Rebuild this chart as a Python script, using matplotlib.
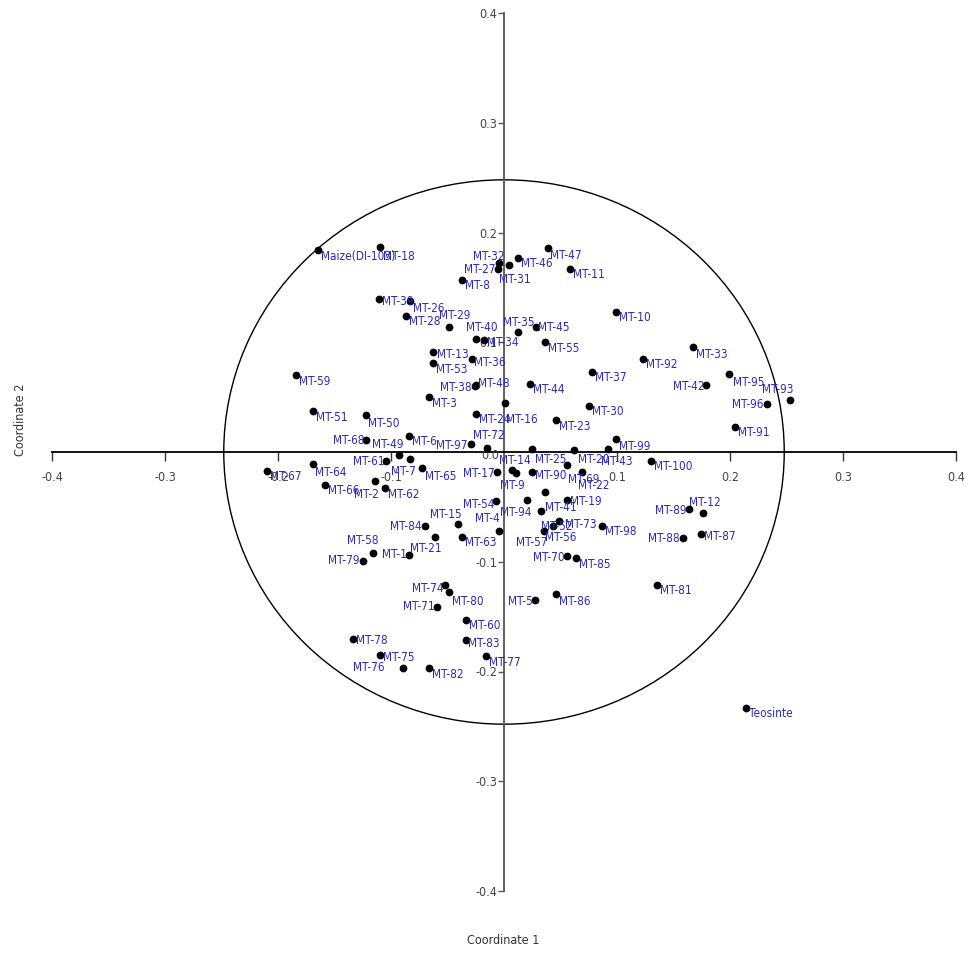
import matplotlib
matplotlib.use('Agg')
import matplotlib.pyplot as plt
from matplotlib import font_manager
from matplotlib.patches import Ellipse

# PCoA coordinates
names = ['Maize(DI-103)', 'MT-18', 'MT-39', 'MT-26', 'MT-28', 'MT-59', 'MT-13', 'MT-53',
         'MT-32', 'MT-27', 'MT-8', 'MT-31', 'MT-46', 'MT-47', 'MT-11', 'MT-29',
         'MT-40', 'MT-34', 'MT-35', 'MT-45', 'MT-55', 'MT-36', 'MT-38', 'MT-48',
         'MT-44', 'MT-37', 'MT-3', 'MT-16', 'MT-24', 'MT-10', 'MT-33', 'MT-92',
         'MT-42', 'MT-95', 'MT-93', 'MT-96', 'MT-91', 'MT-99', 'MT-30', 'MT-23',
         'MT-51', 'MT-50', 'MT-68', 'MT-49', 'MT-6', 'MT-61', 'MT-7', 'MT-65',
         'MT-67', 'MT-64', 'MT-66', 'MT-2', 'MT-62', 'MT-84', 'MT-15', 'MT-63',
         'MT-21', 'MT-1', 'MT-72', 'MT-97', 'MT-14', 'MT-9', 'MT-17', 'MT-25',
         'MT-90', 'MT-20', 'MT-43', 'MT-69', 'MT-22', 'MT-19', 'MT-41', 'MT-94',
         'MT-54', 'MT-4', 'MT-52', 'MT-73', 'MT-56', 'MT-57', 'MT-98', 'MT-70',
         'MT-85', 'MT-5', 'MT-86', 'MT-81', 'MT-100', 'MT-89', 'MT-12', 'MT-88',
         'MT-87', 'MT-58', 'MT-79', 'MT-74', 'MT-80', 'MT-71', 'MT-60', 'MT-83',
         'MT-77', 'MT-78', 'MT-76', 'MT-75', 'MT-82', 'Teosinte']

coord1 = [-0.165, -0.110, -0.111, -0.083, -0.087, -0.184, -0.063, -0.063,
          -0.004, -0.005, -0.037, 0.004, 0.012, 0.039, 0.058, -0.049,
          -0.025, -0.018, 0.012, 0.028, 0.036, -0.028, -0.026, -0.025,
          0.023, 0.078, -0.066, 0.001, -0.025, 0.099, 0.167, 0.123,
          0.179, 0.199, 0.253, 0.233, 0.204, 0.099, 0.075, 0.046,
          -0.169, -0.122, -0.122, -0.093, -0.084, -0.104, -0.083, -0.073,
          -0.210, -0.169, -0.158, -0.114, -0.105, -0.070, -0.041, -0.037,
          -0.061, -0.084, -0.015, -0.029, 0.007, 0.011, -0.006, 0.025,
          0.025, 0.062, 0.092, 0.056, 0.069, 0.056, 0.036, 0.020,
          -0.007, -0.004, 0.033, 0.049, 0.043, 0.035, 0.087, 0.056,
          0.064, 0.027, 0.046, 0.135, 0.130, 0.164, 0.176, 0.158,
          0.174, -0.116, -0.125, -0.052, -0.049, -0.059, -0.034, -0.034,
          -0.016, -0.134, -0.110, -0.089, -0.066, 0.214]

coord2 = [0.184, 0.187, 0.139, 0.138, 0.124, 0.070, 0.091, 0.081,
          0.172, 0.167, 0.157, 0.170, 0.177, 0.186, 0.167, 0.114,
          0.103, 0.102, 0.109, 0.114, 0.100, 0.085, 0.060, 0.061,
          0.062, 0.073, 0.050, 0.045, 0.035, 0.128, 0.096, 0.085,
          0.061, 0.071, 0.047, 0.044, 0.023, 0.012, 0.042, 0.029,
          0.037, 0.034, 0.011, -0.003, 0.015, -0.008, -0.006, -0.015,
          -0.017, -0.011, -0.030, -0.026, -0.033, -0.067, -0.066, -0.077,
          -0.077, -0.094, 0.004, 0.007, -0.016, -0.019, -0.018, 0.003,
          -0.018, 0.002, 0.003, -0.012, -0.018, -0.044, -0.036, -0.044,
          -0.045, -0.072, -0.054, -0.063, -0.067, -0.072, -0.067, -0.095,
          -0.097, -0.135, -0.129, -0.121, -0.008, -0.052, -0.056, -0.078,
          -0.075, -0.092, -0.099, -0.121, -0.128, -0.141, -0.153, -0.171,
          -0.186, -0.170, -0.185, -0.197, -0.197, -0.233]

ticks = [-0.4, -0.3, -0.2, -0.1, 0.1, 0.2, 0.3, 0.4]
tick_labels = ['-0.4', '-0.3', '-0.2', '-0.1', '0.1', '0.2', '0.3', '0.4']

# label placement (pixel offset from the dot, horizontal alignment)
DEFAULT_POS = (3, -6, 'left')
label_pos = {
    'MT-18': (3, -10, 'left'), 'MT-39': (3, -2, 'left'), 'MT-32': (-11, 7, 'center'),
    'MT-27': (-3, -1, 'right'), 'MT-31': (6, -14, 'center'), 'MT-29': (6, 11, 'center'),
    'MT-40': (6, 11, 'center'), 'MT-35': (1, 10, 'center'), 'MT-34': (3, -2, 'left'),
    'MT-45': (2, -1, 'left'), 'MT-13': (4, -2, 'left'), 'MT-38': (-3, -1, 'right'),
    'MT-48': (2, 2, 'left'), 'MT-36': (2, -4, 'left'), 'MT-16': (1, -17, 'left'),
    'MT-42': (-2, -1, 'right'), 'MT-93': (-12, 11, 'center'), 'MT-96': (-4, -1, 'right'),
    'MT-97': (-4, -1, 'right'), 'MT-72': (2, 12, 'center'), 'MT-14': (3, 9, 'center'),
    'MT-9': (-4, -13, 'center'), 'MT-17': (-2, -2, 'right'), 'MT-25': (3, -11, 'left'),
    'MT-20': (4, -10, 'left'), 'MT-43': (9, -13, 'center'), 'MT-69': (1, -14, 'left'),
    'MT-22': (-4, -14, 'left'), 'MT-19': (3, -1, 'left'), 'MT-41': (0, -16, 'left'),
    'MT-94': (-11, -12, 'center'), 'MT-54': (-2, -3, 'right'), 'MT-4': (-12, 13, 'center'),
    'MT-52': (0, -15, 'left'), 'MT-73': (6, -3, 'left'), 'MT-56': (8, -12, 'center'),
    'MT-57': (-12, -11, 'center'), 'MT-49': (-11, 11, 'center'), 'MT-61': (-2, -1, 'right'),
    'MT-68': (-2, -1, 'right'), 'MT-7': (-7, -13, 'center'), 'MT-2': (-9, -14, 'center'),
    'MT-21': (-9, -12, 'center'), 'MT-15': (-12, 10, 'center'), 'MT-84': (-3, -1, 'right'),
    'MT-1': (-2, 1, 'right'), 'MT-58': (-10, 12, 'center'), 'MT-79': (-3, 0, 'right'),
    'MT-74': (-2, -4, 'right'), 'MT-71': (-3, 0, 'right'), 'MT-75': (-5, 11, 'center'),
    'MT-76': (-11, -12, 'center'), 'MT-78': (3, -2, 'left'), 'MT-83': (2, -4, 'left'),
    'MT-12': (2, 11, 'center'), 'MT-89': (-3, -1, 'right'), 'MT-88': (-3, -1, 'right'),
    'MT-87': (3, -2, 'left'), 'MT-70': (-3, -1, 'right'), 'MT-5': (-2, -1, 'right'),
    'MT-90': (3, -4, 'left'), 'MT-50': (2, -9, 'left'), 'MT-26': (3, -8, 'left'),
    'MT-47': (2, -8, 'left'), 'MT-80': (3, -9, 'left'), 'MT-86': (3, -8, 'left'),
    'MT-99': (3, -8, 'left'), 'MT-95': (4, -8, 'left'), 'MT-33': (3, -8, 'left'),
    'MT-65': (3, -8, 'left'), 'MT-64': (2, -8, 'left'),
}

available = {f.name for f in font_manager.fontManager.ttflist}
FONT = 'Liberation Sans Narrow' if 'Liberation Sans Narrow' in available else 'DejaVu Sans'
plt.rcParams['font.family'] = FONT
plt.rcParams['font.stretch'] = 'condensed'

fig = plt.figure(figsize=(9.71, 9.58), dpi=100)
ax = fig.add_axes([52 / 971, 67 / 958, 904 / 971, 878 / 958])

ax.set_xlim(-0.4, 0.4)
ax.set_ylim(-0.4, 0.4)
ax.spines['left'].set_position(('data', 0))
ax.spines['bottom'].set_position(('data', 0))
ax.spines['top'].set_visible(False)
ax.spines['right'].set_visible(False)
ax.spines['bottom'].set_color('black')
ax.spines['bottom'].set_linewidth(1.3)
ax.spines['left'].set_color('#555555')
ax.spines['left'].set_linewidth(1.3)

ax.set_xticks(ticks)
ax.set_xticklabels(tick_labels)
ax.set_yticks(ticks)
ax.set_yticklabels(tick_labels)
ax.tick_params(axis='x', direction='out', length=6.5, width=1, pad=7,
               labelsize=9, labelcolor='#444444', color='#333333')
ax.tick_params(axis='y', direction='out', length=4.5, width=1, pad=0.5,
               labelsize=9, labelcolor='#444444', color='#555555')
ax.text(-0.012, -0.003, '0.0', ha='center', va='center', fontsize=9, color='#444444')

ax.add_patch(Ellipse((0, 0), 2 * 0.248, 2 * 0.248, fill=False,
                     edgecolor='black', linewidth=1.0))

ax.scatter(coord1, coord2, s=21, color='black', zorder=3)

for name, x, y in zip(names, coord1, coord2):
    dx, dy, ha = label_pos.get(name, DEFAULT_POS)
    ax.annotate(name, (x, y), xytext=(dx, dy), textcoords='offset pixels',
                ha=ha, va='center', fontsize=8.5, color='#2a2abf', zorder=4)

fig.text(503 / 971, 1 - 940 / 958, 'Coordinate 1', ha='center', va='center',
         fontsize=9, color='#333333')
fig.text(20 / 971, 1 - 420 / 958, 'Coordinate 2', ha='center', va='center',
         rotation=90, fontsize=9, color='#333333')

fig.savefig('out.png', dpi=100)
